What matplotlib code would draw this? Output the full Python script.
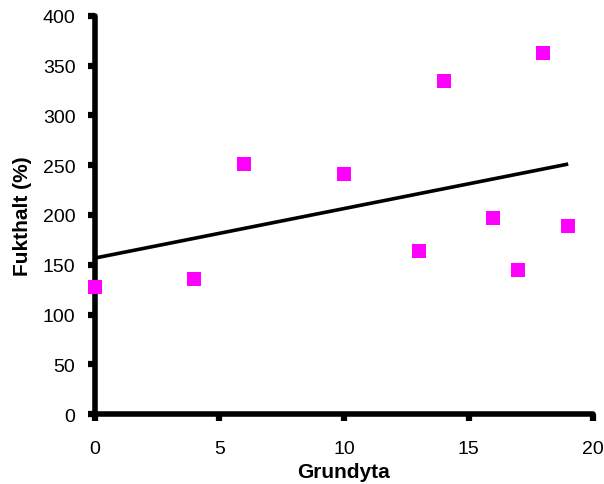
import numpy as np
import matplotlib
matplotlib.use("Agg")
import matplotlib.pyplot as plt

plt.rcParams['font.family'] = ['Liberation Sans', 'DejaVu Sans']

grundyta = [0, 4, 6, 10, 13, 14, 16, 17, 18, 19]
fukthalt = [128, 136, 251, 241, 164, 335, 197, 145, 363, 189]
xticks = [0, 5, 10, 15, 20]
yticks = [0, 50, 100, 150, 200, 250, 300, 350, 400]

fig = plt.figure(figsize=(6.04, 4.85), dpi=100)
ax = fig.add_axes([0.157, 0.1443, 0.825, 0.8207])

coef = np.polyfit(grundyta, fukthalt, 1)
xl = np.array([min(grundyta), max(grundyta)])
ax.plot(xl, np.polyval(coef, xl), color='black', lw=2.6, solid_capstyle='butt', zorder=2)
ax.plot(grundyta, fukthalt, 's', color='#FF00FF', markersize=10, markeredgewidth=0, zorder=3, clip_on=False)

ax.set_xlim(0, 20)
ax.set_ylim(0, 400)
ax.set_xticks(xticks)
ax.set_yticks(yticks)
for s in ['top', 'right']:
    ax.spines[s].set_visible(False)
for s in ['left', 'bottom']:
    ax.spines[s].set_linewidth(4)
    ax.spines[s].set_capstyle('round')
ax.tick_params(direction='out', length=5, width=4.5, labelsize=14)
ax.tick_params(axis='x', pad=14)
ax.tick_params(axis='y', pad=9)
for t in ax.xaxis.get_ticklines() + ax.yaxis.get_ticklines():
    t.set_solid_capstyle('round')
ax.set_xlabel('Grundyta', fontsize=15, fontweight='bold', labelpad=3)
ax.set_ylabel('Fukthalt (%)', fontsize=15, fontweight='bold', labelpad=8)

fig.savefig('out.png', dpi=100)
